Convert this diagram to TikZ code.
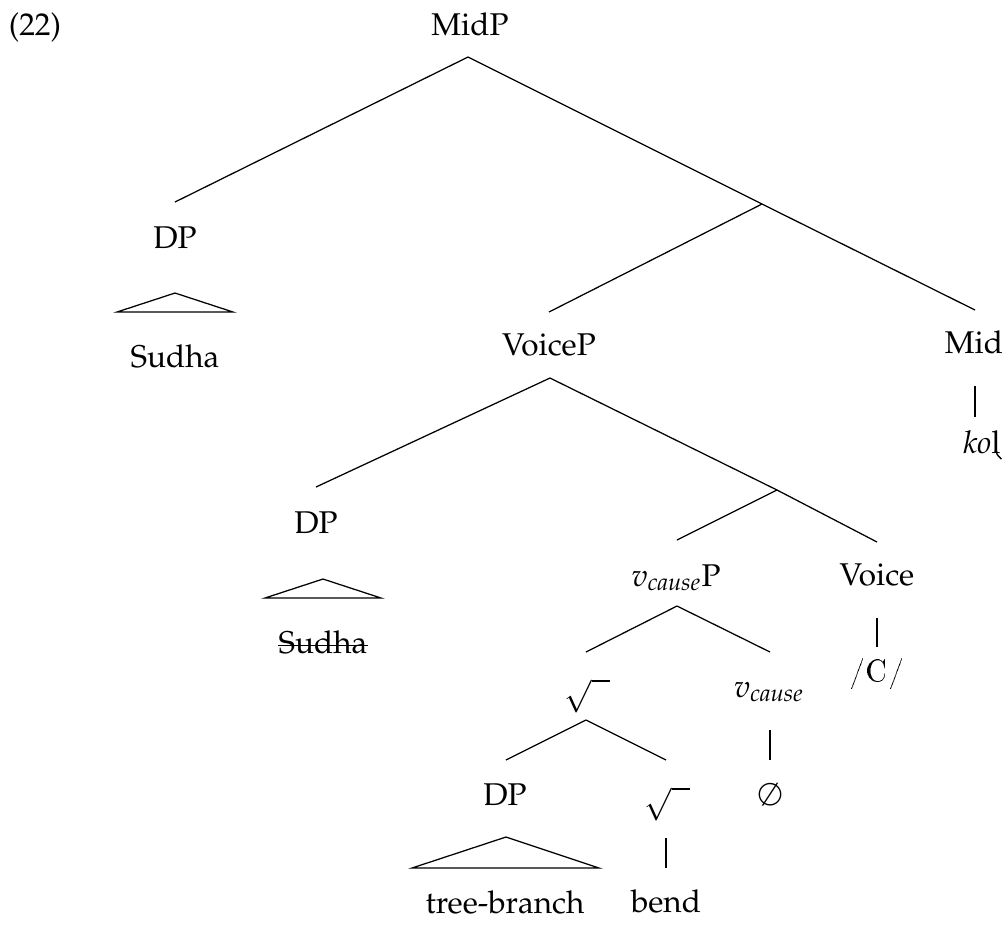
\documentclass[tikz,border=0pt]{standalone}
\usepackage[T1]{fontenc}
\usepackage{mathpazo}
\begin{document}
\begin{tikzpicture}[x=0.318pt,y=-0.318pt,
  lbl/.style={anchor=base,inner sep=0pt},
  sym/.style={anchor=center,inner sep=0pt},
  branch/.style={line width=0.4pt}]
\useasboundingbox (0,0) rectangle (1008,928);

% example number
\node[lbl] (ex) at (35,35) {(22)};

% labels
\node[lbl] (midp)   at (470,35)  {MidP};
\node[lbl] (dp1)    at (175,248) {DP};
\node[lbl] (sudha1) at (175,367) {Sudha};
\node[lbl] (voicep) at (549,355) {VoiceP};
\node[lbl] (mid)    at (974,353) {Mid};
\node[lbl] (kol)    at (982,453) {\textit{ko}l};
\node[lbl] (dp2)    at (316,533) {DP};
\node[lbl] (sudha2) at (323,653) {Sudha};
\node[lbl] (vcp)    at (676,586) {$v_{\mathit{cause}}$P};
\node[lbl] (voice)  at (877,585) {Voice};
\node[lbl] (cph)    at (877,681) {\textsf{/C/}};
\node[sym] (rt1)    at (587,696) {$\sqrt{\phantom{x}}$};
\node[lbl] (vc)     at (769,697) {$v_{\mathit{cause}}$};
\node[sym] (null)   at (770,795) {$\emptyset$};
\node[lbl] (dp3)    at (505,805) {DP};
\node[sym] (rt2)    at (667,804) {$\sqrt{\phantom{x}}$};
\node[lbl] (tb)     at (505,913) {tree-branch};
\node[lbl] (bend)   at (666,912) {bend};

% retroflex hook under the final l
\draw[line width=0.45pt]
  ([xshift=-1.45pt,yshift=0.4pt]kol.base east)
  .. controls ([xshift=-1.45pt,yshift=-0.9pt]kol.base east)
  and ([xshift=-0.5pt,yshift=-1.2pt]kol.base east)
  .. ([xshift=0.1pt,yshift=-1.9pt]kol.base east);

% strike through the lower copy of the subject
\draw[line width=0.4pt] ([yshift=2.5pt]sudha2.base west) -- ([yshift=2.5pt]sudha2.base east);

% branch end points
\coordinate (midp-b)   at (468,57);
\coordinate (dp1-t)    at (175,202);
\coordinate (bar1)     at (762,204);
\coordinate (voicep-t) at (549,312);
\coordinate (mid-t)    at (975,310);
\coordinate (mid-b)    at (975,386);
\coordinate (kol-t)    at (975,417);
\coordinate (voicep-b) at (550,378);
\coordinate (dp2-t)    at (316,487);
\coordinate (bar2)     at (777,490);
\coordinate (vcp-t)    at (677,540);
\coordinate (voice-t)  at (877,542);
\coordinate (voice-b)  at (877,618);
\coordinate (cph-t)    at (877,647);
\coordinate (vcp-b)    at (677,606);
\coordinate (rt1-t)    at (586,652);
\coordinate (vc-t)     at (770,652);
\coordinate (vc-b)     at (770,730);
\coordinate (null-t)   at (770,760);
\coordinate (rt1-b)    at (586,720);
\coordinate (dp3-t)    at (506,760);
\coordinate (rt2-t)    at (666,760);
\coordinate (rt2-b)    at (666,838);
\coordinate (bend-t)   at (666,868);

% triangle apexes
\coordinate (tri1) at (175,293);
\coordinate (tri2) at (323,579);
\coordinate (tri3) at (506,837);

% branches
\draw[branch] (midp-b) -- (dp1-t);
\draw[branch] (midp-b) -- (bar1);
\draw[branch] (bar1) -- (voicep-t);
\draw[branch] (bar1) -- (mid-t);
\draw[branch] (mid-b) -- (kol-t);
\draw[branch] (voicep-b) -- (dp2-t);
\draw[branch] (voicep-b) -- (bar2);
\draw[branch] (bar2) -- (vcp-t);
\draw[branch] (bar2) -- (voice-t);
\draw[branch] (voice-b) -- (cph-t);
\draw[branch] (vcp-b) -- (rt1-t);
\draw[branch] (vcp-b) -- (vc-t);
\draw[branch] (vc-b) -- (null-t);
\draw[branch] (rt1-b) -- (dp3-t);
\draw[branch] (rt1-b) -- (rt2-t);
\draw[branch] (rt2-b) -- (bend-t);

% roof triangles
\draw[branch] (tri1) -- ++(-58,19) -- ++(116,0) -- cycle;
\draw[branch] (tri2) -- ++(-58,19) -- ++(116,0) -- cycle;
\draw[branch] (tri3) -- ++(-94,31) -- ++(187,0) -- cycle;
\end{tikzpicture}
\end{document}
